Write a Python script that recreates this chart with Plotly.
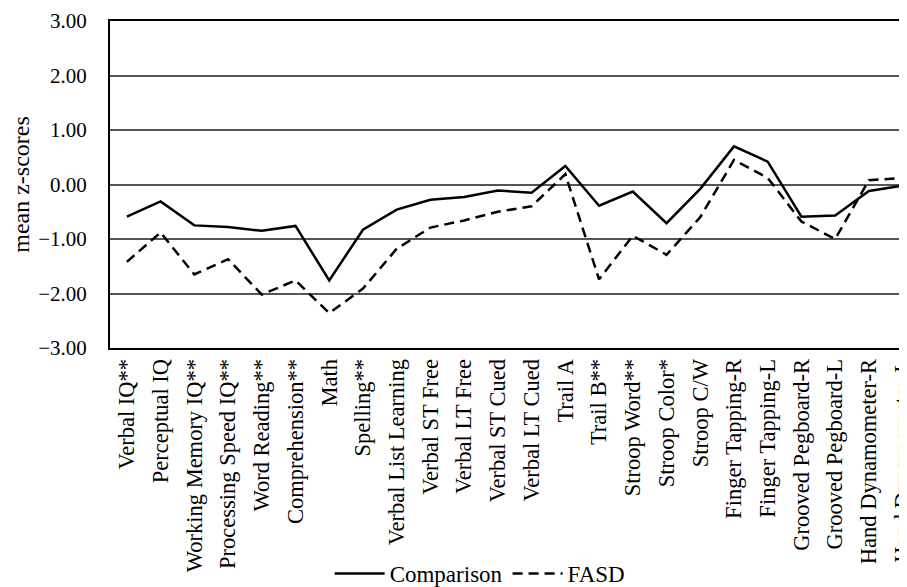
import plotly.graph_objects as go

categories = ["Verbal IQ**", "Perceptual IQ", "Working Memory IQ**", "Processing Speed IQ**",
              "Word Reading**", "Comprehension**", "Math", "Spelling**", "Verbal List Learning",
              "Verbal ST Free", "Verbal LT Free", "Verbal ST Cued", "Verbal LT Cued", "Trail A",
              "Trail B**", "Stroop Word**", "Stroop Color*", "Stroop C/W", "Finger Tapping-R",
              "Finger Tapping-L", "Grooved Pegboard-R", "Grooved Pegboard-L",
              "Hand Dynamometer-R", "Hand Dynamometer-L"]

comparison = [-0.59, -0.31, -0.75, -0.78, -0.85, -0.76, -1.76, -0.83, -0.46, -0.28, -0.23, -0.11,
              -0.15, 0.34, -0.39, -0.13, -0.71, -0.08, 0.70, 0.42, -0.59, -0.57, -0.12, -0.02]

fasd = [-1.42, -0.88, -1.65, -1.37, -2.02, -1.76, -2.36, -1.91, -1.18, -0.79, -0.66, -0.50,
        -0.40, 0.19, -1.74, -0.94, -1.29, -0.60, 0.45, 0.12, -0.68, -1.00, 0.08, 0.12]

yticks = [3, 2, 1, 0, -1, -2, -3]

FONT = "Liberation Serif"

fig = go.Figure()
fig.add_trace(go.Scatter(x=categories, y=comparison, mode="lines", name="Comparison",
                         line=dict(color="black", width=2.5)))
fig.add_trace(go.Scatter(x=categories, y=fasd, mode="lines", name="FASD",
                         line=dict(color="black", width=2.5, dash="10px,6px")))

fig.update_layout(
    width=907, height=587,
    margin=dict(l=102, r=0, t=13, b=244),
    plot_bgcolor="white", paper_bgcolor="white",
    font=dict(family=FONT, size=21, color="black"),
    showlegend=True,
    legend=dict(orientation="h", x=0.465, y=-0.69, xanchor="center", yanchor="middle",
                font=dict(family=FONT, size=23, color="black"), itemwidth=50,
                bgcolor="rgba(0,0,0,0)"),
    xaxis=dict(range=[-0.5, 23.1], showgrid=False, showline=True, mirror=True,
               linecolor="black", linewidth=2, tickangle=-90, ticks="",
               tickfont=dict(family=FONT, size=22.5, color="black"),
               fixedrange=True),
    yaxis=dict(range=[-3, 3], tickvals=yticks, tickformat=".2f",
               showgrid=True, gridcolor="#555555", gridwidth=1.5, showline=True,
               linecolor="black", linewidth=2, ticks="outside", ticklen=17,
               tickcolor="rgba(0,0,0,0)", zeroline=False,
               tickfont=dict(family=FONT, size=21, color="black"),
               title=dict(text="mean z-scores", font=dict(family=FONT, size=24, color="black"),
                          standoff=2)),
)

fig.write_html("out.html")
